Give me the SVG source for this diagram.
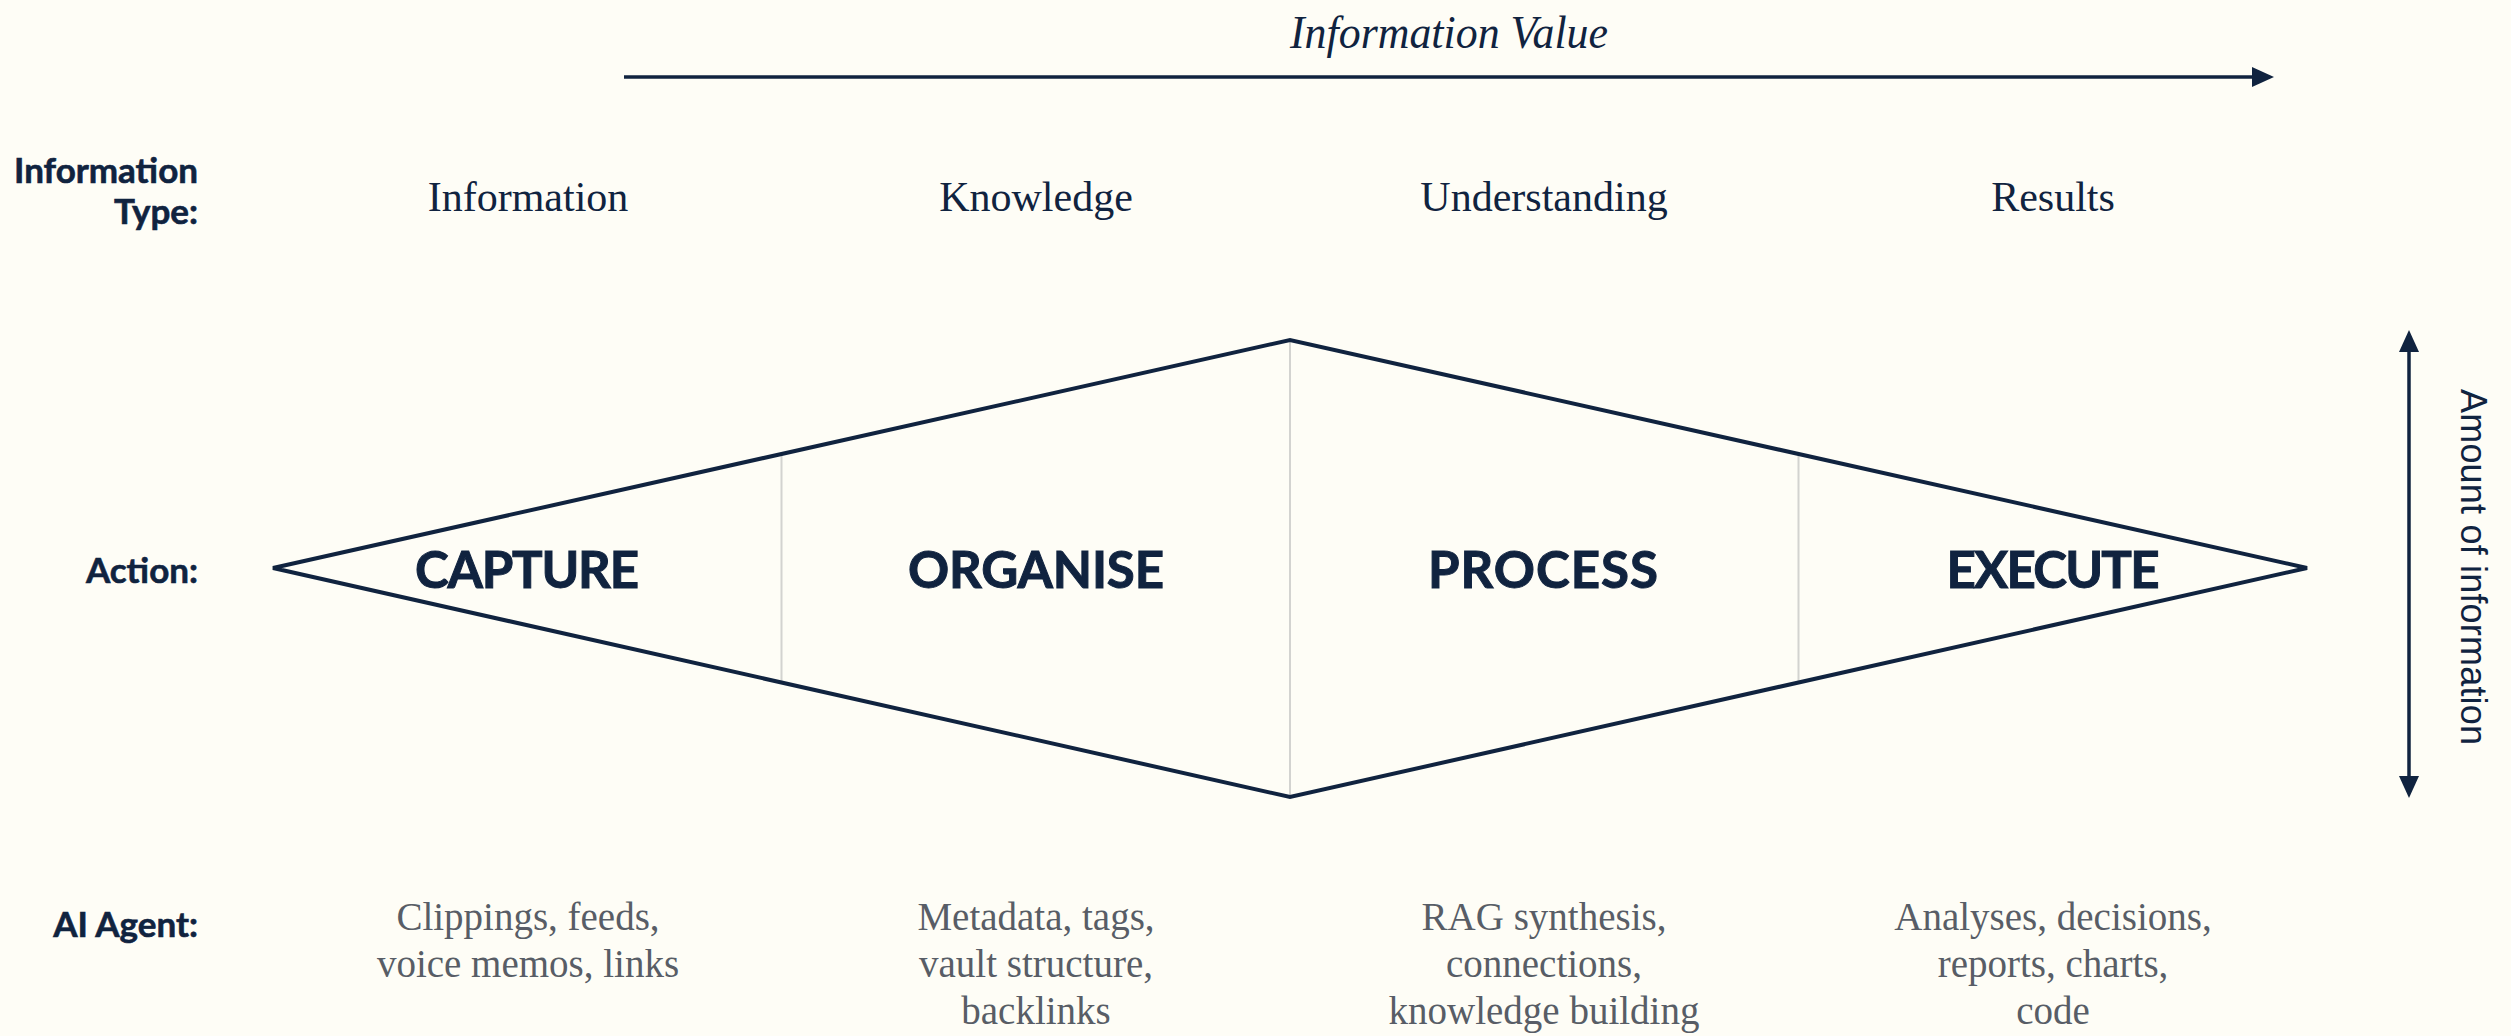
<svg xmlns="http://www.w3.org/2000/svg" width="2511" height="1036" viewBox="0 0 2511 1036">
  <defs>
    <marker id="arrowHead" markerUnits="userSpaceOnUse" markerWidth="22" markerHeight="20" refX="0" refY="10" orient="auto-start-reverse" viewBox="0 0 22 20">
      <path d="M0,0 L22,10 L0,20 Z" fill="#10233f"/>
    </marker>
    <style>
      .row-label { font-family: Lato, "Liberation Sans", sans-serif; font-weight: 700; font-size: 35px; fill: #10233f; text-anchor: end; stroke: #10233f; stroke-width: 0.6; }
      .col-head { font-family: "Liberation Serif", serif; font-size: 42px; fill: #10233f; text-anchor: middle; }
      .action { font-family: Lato, "Liberation Sans", sans-serif; font-weight: 700; font-size: 51px; fill: #10233f; text-anchor: middle; stroke: #10233f; stroke-width: 1; }
      .desc { font-family: "Liberation Serif", serif; font-size: 39px; fill: #585d66; text-anchor: middle; }
      .axis-title { font-family: "Liberation Serif", serif; font-style: italic; font-size: 46px; fill: #10233f; text-anchor: middle; }
      .axis-side { font-family: "Liberation Sans", sans-serif; font-size: 36px; fill: #10233f; text-anchor: middle; }
      .axis { stroke: #10233f; stroke-width: 3.5; fill: none; }
      .outline { stroke: #10233f; stroke-width: 4; fill: none; stroke-linejoin: miter; }
      .divider { stroke: #d3d3d0; stroke-width: 2; }
    </style>
  </defs>

  <rect x="0" y="0" width="2511" height="1036" fill="#fefdf6"/>

  <!-- row labels -->
  <g id="label-type">
    <text class="row-label" x="198" y="183">Information</text>
    <text class="row-label" x="198" y="224">Type:</text>
  </g>
  <g id="label-action">
    <text class="row-label" x="198" y="583">Action:</text>
  </g>
  <g id="label-agent">
    <text class="row-label" x="198" y="937">AI Agent:</text>
  </g>

  <!-- column headers -->
  <g id="head-information"><text class="col-head" x="528" y="211">Information</text></g>
  <g id="head-knowledge"><text class="col-head" x="1036" y="211">Knowledge</text></g>
  <g id="head-understanding"><text class="col-head" x="1544" y="211">Understanding</text></g>
  <g id="head-results"><text class="col-head" x="2053" y="211">Results</text></g>

  <!-- diamond with stage dividers -->
  <g id="diamond">
    <line class="divider" x1="781.5" y1="455" x2="781.5" y2="682"/>
    <line class="divider" x1="1290" y1="341" x2="1290" y2="796"/>
    <line class="divider" x1="1798.5" y1="455" x2="1798.5" y2="682"/>
    <polygon class="outline" points="273,568 1290,340 2307,568 1290,797"/>
  </g>

  <!-- stages -->
  <g id="stage-capture"><text class="action" x="527" y="588" textLength="224" lengthAdjust="spacing">CAPTURE</text></g>
  <g id="stage-organise"><text class="action" x="1036" y="588" textLength="256" lengthAdjust="spacing">ORGANISE</text></g>
  <g id="stage-process"><text class="action" x="1543" y="588" textLength="230" lengthAdjust="spacing">PROCESS</text></g>
  <g id="stage-execute"><text class="action" x="2053" y="588" textLength="213" lengthAdjust="spacing">EXECUTE</text></g>

  <!-- agent outputs -->
  <g id="agent-capture">
    <text class="desc" x="528" y="930">Clippings, feeds,</text>
    <text class="desc" x="528" y="977">voice memos, links</text>
  </g>
  <g id="agent-organise">
    <text class="desc" x="1036" y="930">Metadata, tags,</text>
    <text class="desc" x="1036" y="977">vault structure,</text>
    <text class="desc" x="1036" y="1024">backlinks</text>
  </g>
  <g id="agent-process">
    <text class="desc" x="1544" y="930">RAG synthesis,</text>
    <text class="desc" x="1544" y="977">connections,</text>
    <text class="desc" x="1544" y="1024">knowledge building</text>
  </g>
  <g id="agent-execute">
    <text class="desc" x="2053" y="930">Analyses, decisions,</text>
    <text class="desc" x="2053" y="977">reports, charts,</text>
    <text class="desc" x="2053" y="1024">code</text>
  </g>

  <!-- axes -->
  <g id="connectors">
    <line class="axis" x1="624" y1="77" x2="2252" y2="77" marker-end="url(#arrowHead)"/>
    <line class="axis" x1="2409" y1="352" x2="2409" y2="776" marker-start="url(#arrowHead)" marker-end="url(#arrowHead)"/>
  </g>

  <g id="axis-value">
    <text class="axis-title" x="1449" y="48" textLength="318" lengthAdjust="spacingAndGlyphs">Information Value</text>
  </g>
  <g id="axis-amount">
    <text class="axis-side" transform="translate(2461,567) rotate(90)" x="0" y="0" textLength="356" lengthAdjust="spacing">Amount of information</text>
  </g>
</svg>
